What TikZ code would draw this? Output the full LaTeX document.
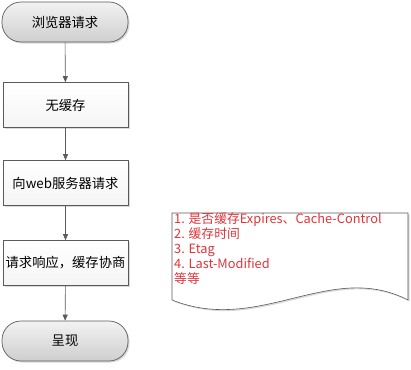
\documentclass[tikz,border=0pt]{standalone}
\usepackage{fontspec}
\setmainfont{Noto Sans CJK SC}
\usetikzlibrary{shadows,arrows.meta}
\definecolor{txtred}{RGB}{226,52,58}
\definecolor{edge}{RGB}{90,90,90}
\tikzset{
  x=1pt,y=-1pt,
  term/.style={draw=edge, line width=0.7pt, rounded corners=19pt, minimum width=126pt, minimum height=40pt,
    top color=gray!10, bottom color=gray!38, drop shadow={shadow xshift=1.5pt,shadow yshift=-1.5pt,opacity=0.3},
    font=\fontsize{13.3}{15}\selectfont, inner sep=0pt},
  procbox/.style={draw=edge, line width=0.7pt, minimum width=125pt, minimum height=45pt,
    top color=white, bottom color=gray!8, drop shadow={shadow xshift=1.5pt,shadow yshift=-1.5pt,opacity=0.3},
    font=\fontsize{13.3}{15}\selectfont, inner sep=0pt},
  flow/.style={draw=edge, line width=0.6pt, -{Triangle[length=6pt,width=5pt]}}
}
\begin{document}
\begin{tikzpicture}
\useasboundingbox (0,0) rectangle (411,369);
\node[term] (start) at (65,22) {浏览器请求};
\node[procbox] (nocache) at (65.5,105) {无缓存};
\node[procbox] (ask) at (65.5,183) {向web服务器请求};
\node[procbox] (resp) at (65.5,263) {请求响应，缓存协商};
\node[term] (show) at (65,341) {呈现};
\draw[flow] (start) -- (nocache);
\draw[flow] (nocache) -- (ask);
\draw[flow] (ask) -- (resp);
\draw[flow] (resp) -- (show);
\path[draw=edge, line width=0.6pt, fill=white, drop shadow={shadow xshift=1.5pt,shadow yshift=-1.5pt,opacity=0.3}]
  (172,213) -- (408,213) -- (408,300) .. controls (330,260) and (260,335) .. (172,300) -- cycle;
\node[anchor=north west, align=left, text=txtred, inner sep=0pt, font=\fontsize{12.8}{14.9}\selectfont] (notes) at (174,213)
  {1. 是否缓存Expires、Cache-Control\\2. 缓存时间\\3. Etag\\4. Last-Modified\\等等};
\end{tikzpicture}
\end{document}
